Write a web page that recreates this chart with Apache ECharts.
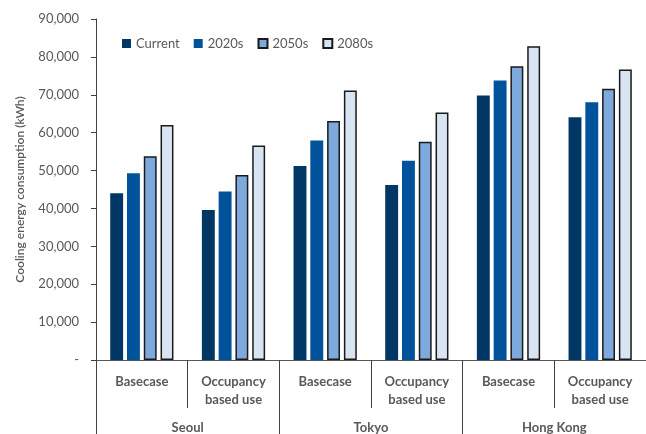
<!DOCTYPE html>
<html>
<head>
<meta charset="utf-8">
<script src="https://cdn.jsdelivr.net/npm/echarts@6/dist/echarts.min.js"></script>
<style>
  html, body { margin: 0; padding: 0; background: #fff; }
  #chart { width: 646px; height: 434px; }
</style>
</head>
<body>
<div id="chart"></div>
<script>
// Scenario categories (inner axis) and city groups (outer axis)
const scenarios = ['Basecase', 'Occupancy\nbased use', 'Basecase', 'Occupancy\nbased use', 'Basecase', 'Occupancy\nbased use'];
const cities = ['Seoul', 'Tokyo', 'Hong Kong'];

// Cooling energy consumption (kWh) per period
const current = [44000, 39600, 51200, 46200, 69800, 64100];
const s2020 = [49300, 44500, 57900, 52600, 73800, 68000];
const s2050 = [53800, 48800, 63100, 57600, 77500, 71600];
const s2080 = [62000, 56600, 71100, 65300, 82800, 76700];

const font = 'Lato, "Open Sans", sans-serif';
const grey = '#595959';

const chart = echarts.init(document.getElementById('chart'));

function bar(name, data, color, border) {
  return {
    name: name,
    type: 'bar',
    data: data,
    barGap: '30%',
    barCategoryGap: '31%',
    itemStyle: border
      ? { color: color, borderColor: '#1a1a1a', borderWidth: 1.5 }
      : { color: color, borderColor: color, borderWidth: 0 }
  };
}

chart.setOption({
  animation: false,
  textStyle: { fontFamily: font },
  legend: {
    left: 117,
    top: 32,
    itemWidth: 9,
    itemHeight: 9,
    itemGap: 14,
    textStyle: { fontSize: 13, color: grey, fontFamily: font },
    data: [
      { name: 'Current', icon: 'rect' },
      { name: '2020s', icon: 'rect' },
      { name: '2050s', icon: 'rect' },
      { name: '2080s', icon: 'rect' }
    ]
  },
  grid: { left: 96, right: -12, top: 19, bottom: 74, containLabel: false },
  xAxis: [
    {
      type: 'category',
      data: scenarios,
      position: 'bottom',
      axisLine: { show: true, lineStyle: { color: grey, width: 1 } },
      axisTick: { show: true, length: 48, lineStyle: { color: '#404040' } },
      axisLabel: {
        interval: 0, margin: 13, fontSize: 13, fontWeight: 'bold',
        color: grey, lineHeight: 18, fontFamily: font
      }
    },
    {
      type: 'category',
      data: cities,
      position: 'bottom',
      axisLine: { show: false },
      axisTick: { show: true, length: 80, lineStyle: { color: '#404040' } },
      axisLabel: {
        interval: 0, margin: 61, fontSize: 13, fontWeight: 'bold',
        color: grey, fontFamily: font
      }
    }
  ],
  yAxis: {
    type: 'value',
    min: 0,
    max: 90000,
    interval: 10000,
    name: 'Cooling energy consumption (kWh)',
    nameLocation: 'middle',
    nameGap: 70,
    nameRotate: 90,
    nameTextStyle: { fontSize: 12, color: grey, fontWeight: 600, fontFamily: font },
    splitLine: { show: false },
    axisLine: { show: true, lineStyle: { color: '#404040', width: 1 } },
    axisTick: { show: true, length: 5, lineStyle: { color: '#404040' } },
    axisLabel: {
      margin: 17, fontSize: 13, color: grey, fontFamily: font,
      formatter: v => v === 0 ? '-' : v.toLocaleString('en-US')
    }
  },
  series: [
    bar('Current', current, '#003764', false),
    bar('2020s', s2020, '#00529B', false),
    bar('2050s', s2050, '#7DA9DC', true),
    bar('2080s', s2080, '#D9E4F3', true)
  ]
});
</script>
</body>
</html>
